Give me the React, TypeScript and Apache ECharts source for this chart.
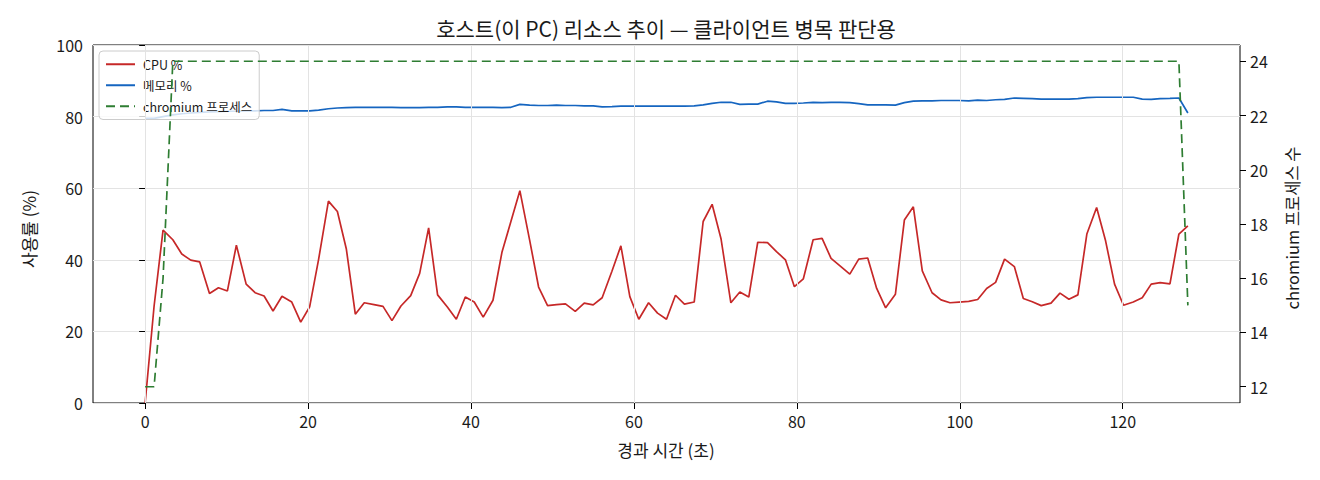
import React, { useEffect, useRef } from "react";
import * as echarts from "echarts";

const TITLE = "호스트(이 PC) 리소스 추이 — 클라이언트 병목 판단용";
const X_NAME = "경과 시간 (초)";
const Y_NAME = "사용률 (%)";
const Y2_NAME = "chromium 프로세스 수";
const SERIES_NAMES = ["CPU %", "메모리 %", "chromium 프로세스"];

const X_TICKS = [0, 20, 40, 60, 80, 100, 120];
const PROC_TICKS = [12, 14, 16, 18, 20, 22, 24];

const TIME = [
  0.0, 1.1, 2.2, 3.4, 4.5, 5.6, 6.7, 7.9, 9.0, 10.1,
  11.2, 12.4, 13.5, 14.6, 15.7, 16.8, 18.0, 19.1, 20.2, 21.3,
  22.5, 23.6, 24.7, 25.8, 26.9, 28.1, 29.2, 30.3, 31.4, 32.6,
  33.7, 34.8, 35.9, 37.1, 38.2, 39.3, 40.4, 41.5, 42.7, 43.8,
  44.9, 46.0, 47.2, 48.3, 49.4, 50.5, 51.6, 52.8, 53.9, 55.0,
  56.1, 57.3, 58.4, 59.5, 60.6, 61.8, 62.9, 64.0, 65.1, 66.2,
  67.4, 68.5, 69.6, 70.7, 71.9, 73.0, 74.1, 75.2, 76.4, 77.5,
  78.6, 79.7, 80.8, 82.0, 83.1, 84.2, 85.3, 86.5, 87.6, 88.7,
  89.8, 90.9, 92.1, 93.2, 94.3, 95.4, 96.6, 97.7, 98.8, 99.9,
  101.1, 102.2, 103.3, 104.4, 105.5, 106.7, 107.8, 108.9, 110.0, 111.2,
  112.3, 113.4, 114.5, 115.6, 116.8, 117.9, 119.0, 120.1, 121.3, 122.4,
  123.5, 124.6, 125.8, 126.9, 128.0,
];

const CPU = [
  0.0, 27.1, 48.3, 45.6, 41.6, 39.9, 39.4, 30.6, 32.2, 31.3,
  44.1, 33.2, 30.8, 29.9, 25.7, 29.8, 28.2, 22.6, 26.9, 40.2,
  56.4, 53.5, 43.0, 24.8, 28.0, 27.5, 27.0, 23.0, 27.1, 30.0,
  36.2, 48.9, 30.2, 26.8, 23.4, 29.6, 28.2, 24.0, 28.7, 42.1,
  50.7, 59.3, 45.5, 32.4, 27.2, 27.5, 27.7, 25.6, 27.9, 27.4,
  29.4, 36.8, 43.9, 29.7, 23.4, 28.0, 25.1, 23.4, 30.1, 27.6,
  28.2, 50.7, 55.5, 45.8, 28.0, 31.0, 29.6, 44.9, 44.8, 42.3,
  40.0, 32.5, 34.7, 45.6, 46.0, 40.4, 38.3, 36.0, 40.2, 40.5,
  32.0, 26.6, 30.4, 51.1, 54.8, 36.9, 30.8, 28.8, 28.0, 28.2,
  28.4, 28.9, 32.0, 33.7, 40.2, 38.1, 29.2, 28.3, 27.2, 27.9,
  30.7, 29.0, 30.2, 47.2, 54.6, 45.3, 33.2, 27.3, 28.2, 29.4,
  33.2, 33.6, 33.3, 47.2, 49.5,
];

const MEM = [
  79.5, 79.5, 80.0, 80.5, 80.8, 81.0, 81.2, 81.3, 81.4, 81.5,
  81.5, 81.6, 81.6, 81.7, 81.7, 82.0, 81.6, 81.6, 81.6, 81.8,
  82.2, 82.4, 82.5, 82.6, 82.6, 82.6, 82.6, 82.6, 82.5, 82.5,
  82.5, 82.6, 82.6, 82.7, 82.7, 82.6, 82.6, 82.6, 82.6, 82.5,
  82.6, 83.4, 83.2, 83.1, 83.1, 83.2, 83.1, 83.1, 83.0, 83.0,
  82.7, 82.8, 82.9, 82.9, 82.9, 82.9, 82.9, 82.9, 82.9, 82.9,
  83.0, 83.3, 83.7, 84.0, 84.0, 83.4, 83.5, 83.5, 84.3, 84.1,
  83.7, 83.7, 83.8, 84.0, 83.9, 84.0, 84.0, 83.9, 83.6, 83.3,
  83.3, 83.3, 83.2, 83.9, 84.3, 84.4, 84.4, 84.5, 84.5, 84.5,
  84.4, 84.6, 84.5, 84.7, 84.8, 85.2, 85.1, 85.0, 84.9, 84.9,
  84.9, 84.9, 85.0, 85.3, 85.4, 85.4, 85.4, 85.4, 85.4, 84.9,
  84.8, 85.0, 85.1, 85.2, 81.0,
];

const PROC = [
  12, 12, 16, 24, 24, 24, 24, 24, 24, 24,
  24, 24, 24, 24, 24, 24, 24, 24, 24, 24,
  24, 24, 24, 24, 24, 24, 24, 24, 24, 24,
  24, 24, 24, 24, 24, 24, 24, 24, 24, 24,
  24, 24, 24, 24, 24, 24, 24, 24, 24, 24,
  24, 24, 24, 24, 24, 24, 24, 24, 24, 24,
  24, 24, 24, 24, 24, 24, 24, 24, 24, 24,
  24, 24, 24, 24, 24, 24, 24, 24, 24, 24,
  24, 24, 24, 24, 24, 24, 24, 24, 24, 24,
  24, 24, 24, 24, 24, 24, 24, 24, 24, 24,
  24, 24, 24, 24, 24, 24, 24, 24, 24, 24,
  24, 24, 24, 24, 15,
];

const FONT = '"Noto Sans CJK KR", "Noto Sans", sans-serif';
const GRID_COLOR = "#e3e3e3";
const TEXT_COLOR = "#1a1a1a";

export default function App() {
  const ref = useRef<HTMLDivElement>(null);

  useEffect(() => {
    document.body.style.margin = "0";
    if (!ref.current) return;
    const chart = echarts.init(ref.current, null, { renderer: "svg" });

    const pairs = (vals: number[]) => TIME.map((t, i) => [t, vals[i]]);

    const nameText = (text: string, x: number, y: number, size: number, rotated: boolean) => ({
      type: "text",
      x,
      y,
      rotation: rotated ? Math.PI / 2 : 0,
      style: {
        text,
        fontSize: size,
        fontFamily: FONT,
        fill: TEXT_COLOR,
        align: "center",
        verticalAlign: "middle",
      },
    });

    const tickLabel = {
      fontSize: 16,
      fontFamily: FONT,
      color: TEXT_COLOR,
      margin: 10,
    };

    const option: any = {
      animation: false,
      textStyle: { fontFamily: FONT },
      grid: {
        left: 93,
        right: 80,
        top: 45,
        bottom: 77,
        show: true,
        borderColor: "#000",
        borderWidth: 1,
        backgroundColor: "transparent",
      },
      graphic: [
        nameText(TITLE, 666, 28, 21, false),
        nameText(X_NAME, 666, 449, 17, false),
        nameText(Y_NAME, 28, 229, 17, true),
        nameText(Y2_NAME, 1292, 228, 16.5, true),
      ],
      legend: {
        data: SERIES_NAMES,
        orient: "vertical",
        left: 99,
        top: 51,
        padding: [7, 7, 7, 6],
        itemWidth: 29,
        itemHeight: 14,
        itemGap: 8.5,
        borderColor: "#cccccc",
        borderWidth: 1,
        borderRadius: 4,
        backgroundColor: "rgba(255,255,255,0.8)",
        itemStyle: { opacity: 0, borderWidth: 0 },
        textStyle: {
          fontSize: 12.5,
          fontFamily: FONT,
          color: TEXT_COLOR,
          padding: [0, 0, 0, 3],
        },
        z: 4,
      },
      xAxis: {
        type: "value",
        min: -6.4,
        max: 134.4,
        axisLine: { show: false },
        axisTick: {
          show: true,
          length: 6,
          inside: false,
          customValues: X_TICKS,
          lineStyle: { color: "#000", width: 1 },
        },
        axisLabel: { ...tickLabel, customValues: X_TICKS },
        splitLine: { show: false },
      },
      yAxis: [
        {
          type: "value",
          min: 0,
          max: 100,
          interval: 20,
          position: "left",
          axisLine: { show: false },
          axisTick: {
            show: true,
            length: 6,
            inside: false,
            lineStyle: { color: "#000", width: 1 },
          },
          axisLabel: tickLabel,
          splitLine: { show: true, lineStyle: { color: GRID_COLOR, width: 1 } },
        },
        {
          type: "value",
          min: 11.4,
          max: 24.6,
          position: "right",
          axisLine: { show: false },
          axisTick: {
            show: true,
            length: 6,
            inside: false,
            customValues: PROC_TICKS,
            lineStyle: { color: "#000", width: 1 },
          },
          axisLabel: { ...tickLabel, customValues: PROC_TICKS },
          splitLine: { show: false },
        },
      ],
      series: [
        {
          name: "xgrid",
          type: "line",
          data: [],
          z: 1,
          silent: true,
          markLine: {
            silent: true,
            symbol: "none",
            label: { show: false },
            lineStyle: { color: GRID_COLOR, width: 1, type: "solid" },
            data: X_TICKS.map((v) => ({ xAxis: v })),
          },
        },
        {
          name: SERIES_NAMES[0],
          type: "line",
          data: pairs(CPU),
          yAxisIndex: 0,
          showSymbol: false,
          symbol: "none",
          z: 2,
          lineStyle: { color: "#c62828", width: 1.7 },
          itemStyle: { color: "#c62828" },
        },
        {
          name: SERIES_NAMES[1],
          type: "line",
          data: pairs(MEM),
          yAxisIndex: 0,
          showSymbol: false,
          symbol: "none",
          z: 2,
          lineStyle: { color: "#1565c0", width: 1.7 },
          itemStyle: { color: "#1565c0" },
        },
        {
          name: SERIES_NAMES[2],
          type: "line",
          data: pairs(PROC),
          yAxisIndex: 1,
          showSymbol: false,
          symbol: "none",
          z: 6,
          lineStyle: { color: "#2e7d32", width: 1.7, type: [9, 5] },
          itemStyle: { color: "#2e7d32" },
        },
      ],
    };

    chart.setOption(option);
    return () => chart.dispose();
  }, []);

  return (
    <div
      ref={ref}
      style={{ position: "fixed", left: 0, top: 0, width: 1320, height: 480, background: "#fff" }}
    />
  );
}
